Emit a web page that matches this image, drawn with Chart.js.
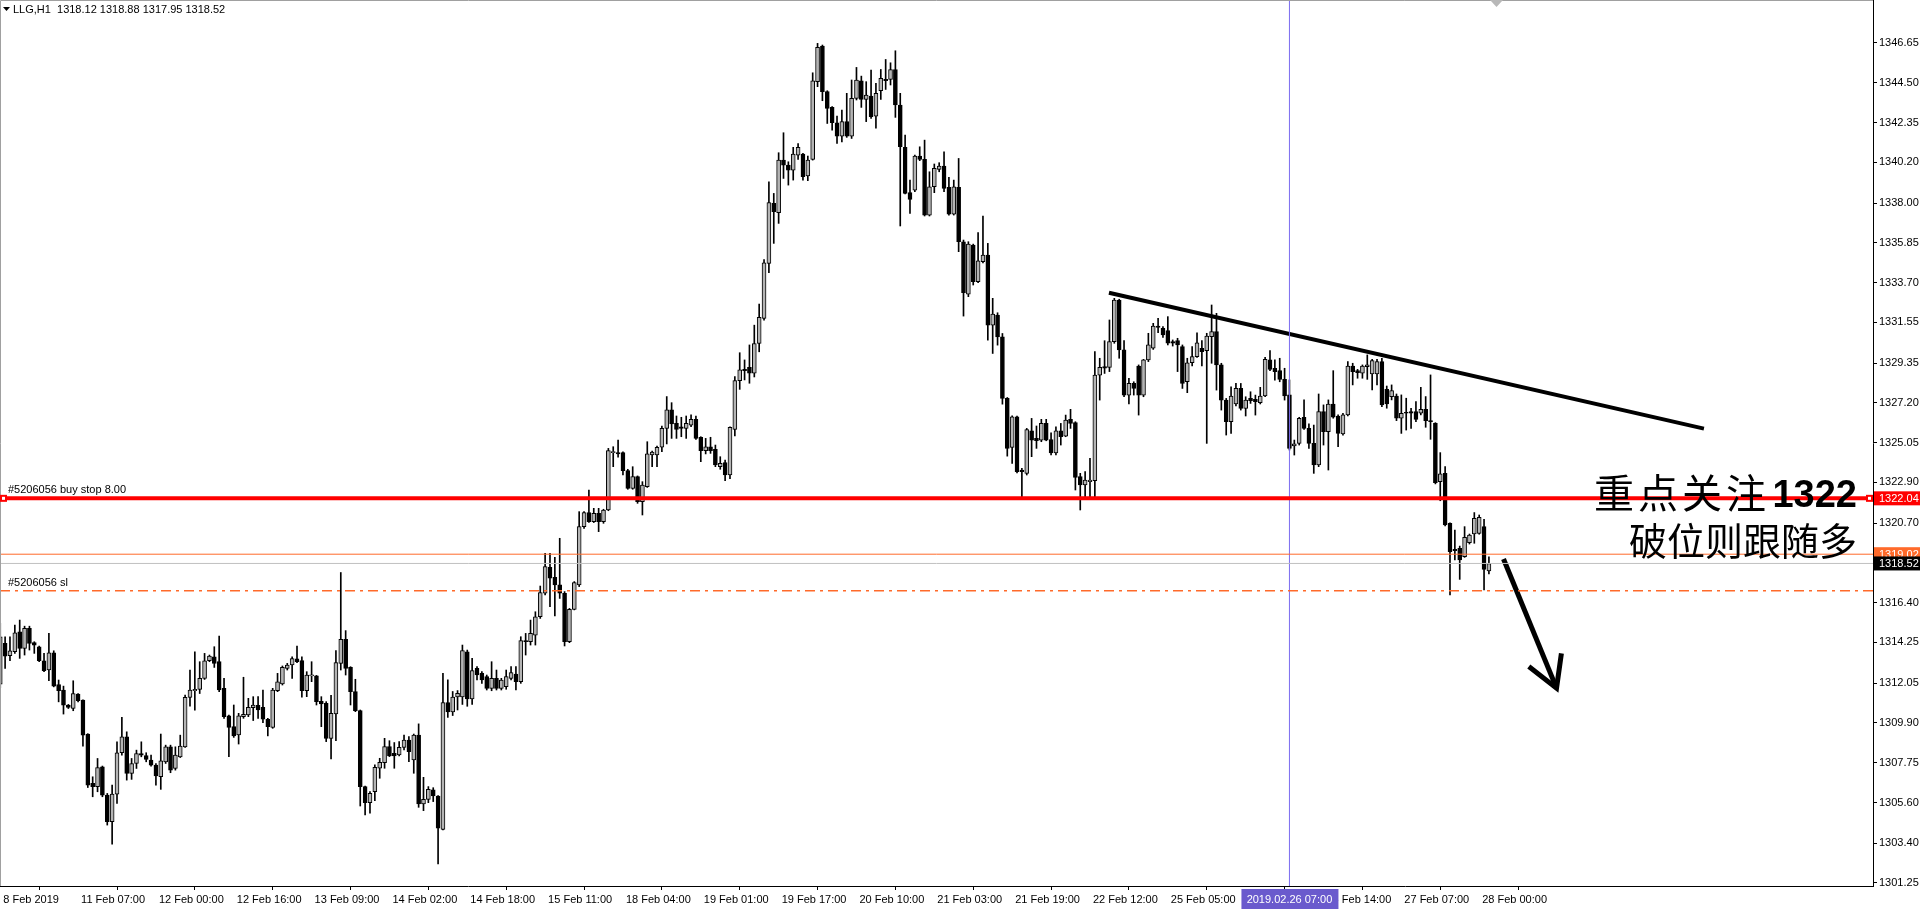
<!DOCTYPE html>
<html>
<head>
<meta charset="utf-8">
<script src="https://cdn.jsdelivr.net/npm/chart.js@4.4.1/dist/chart.umd.min.js"></script>
<style>
  html, body { margin: 0; padding: 0; background: #fff; overflow: hidden; }
  #wrap { width: 1920px; height: 910px; }
</style>
</head>
<body>
<div id="wrap"><canvas id="chart" width="1920" height="910"></canvas></div>
<script>
// LLG,H1 bars, 8 Feb 2019 14:00 .. 28 Feb 2019 02:00
const opens = [
  1312.00, 1314.20, 1313.53, 1313.75, 1314.83, 1313.93, 1315.01, 1314.25, 1314.02, 1313.26,
  1312.76, 1313.69, 1311.98, 1311.67, 1310.86, 1310.68, 1311.46, 1311.13, 1309.30, 1306.63,
  1306.45, 1307.53, 1306.00, 1304.56, 1306.05, 1308.29, 1309.15, 1307.17, 1307.71, 1308.25,
  1308.13, 1307.89, 1307.62, 1306.99, 1307.80, 1308.61, 1307.44, 1308.07, 1308.61, 1311.28,
  1311.64, 1311.71, 1312.31, 1313.26, 1313.48, 1313.21, 1311.77, 1310.28, 1309.70, 1309.25,
  1310.24, 1310.33, 1310.73, 1310.85, 1310.75, 1310.10, 1309.66, 1311.65, 1312.01, 1312.85,
  1313.03, 1313.36, 1313.27, 1311.65, 1312.44, 1312.44, 1311.07, 1310.96, 1309.07, 1310.39,
  1313.12, 1314.42, 1312.91, 1311.59, 1310.57, 1306.46, 1305.59, 1306.19, 1307.45, 1307.75,
  1308.62, 1308.26, 1308.17, 1308.58, 1308.98, 1307.90, 1309.25, 1305.52, 1305.77, 1306.28,
  1305.95, 1304.15, 1311.00, 1310.50, 1311.30, 1311.30, 1313.75, 1311.20, 1312.85, 1312.58,
  1312.40, 1311.77, 1312.31, 1311.77, 1311.86, 1312.31, 1312.54, 1312.13, 1314.35, 1314.29,
  1314.65, 1315.64, 1316.91, 1318.31, 1317.77, 1317.36, 1316.91, 1314.29, 1316.04, 1317.36,
  1320.51, 1321.27, 1320.78, 1321.23, 1320.78, 1321.41, 1324.51, 1324.51, 1324.51, 1323.54,
  1322.58, 1323.21, 1321.86, 1322.67, 1324.38, 1324.38, 1324.80, 1325.82, 1326.82, 1326.09,
  1325.91, 1325.82, 1326.00, 1326.31, 1325.34, 1324.62, 1324.83, 1324.69, 1323.75, 1323.97,
  1323.30, 1325.77, 1328.40, 1329.01, 1329.12, 1328.80, 1330.41, 1331.76, 1334.74, 1337.98,
  1337.48, 1340.32, 1340.05, 1339.78, 1340.59, 1340.65, 1339.46, 1340.36, 1344.56, 1346.49,
  1344.02, 1343.17, 1342.34, 1341.62, 1342.40, 1341.62, 1343.66, 1344.61, 1343.60, 1343.78,
  1342.70, 1344.07, 1344.68, 1344.68, 1345.22, 1343.30, 1341.01, 1338.56, 1338.70, 1340.54,
  1340.36, 1337.35, 1338.88, 1339.82, 1340.00, 1338.85, 1337.40, 1338.85, 1335.91, 1333.08,
  1335.73, 1333.75, 1334.83, 1335.19, 1331.40, 1331.95, 1330.77, 1327.44, 1324.79, 1326.45,
  1323.57, 1323.39, 1325.69, 1325.28, 1325.19, 1326.09, 1325.22, 1324.50, 1325.69, 1325.40,
  1326.31, 1326.13, 1323.21, 1322.76, 1322.94, 1322.99, 1328.70, 1329.16, 1329.12, 1330.51,
  1332.76, 1330.06, 1327.62, 1328.25, 1329.19, 1327.62, 1329.52, 1330.15, 1331.35, 1331.23,
  1331.10, 1330.51, 1330.56, 1330.24, 1328.34, 1329.37, 1329.70, 1330.15, 1330.02, 1330.78,
  1331.05, 1329.25, 1327.35, 1326.18, 1327.14, 1327.98, 1326.90, 1327.44, 1327.39, 1327.21,
  1327.57, 1329.52, 1329.07, 1328.94, 1328.47, 1327.63, 1324.87, 1325.01, 1326.42, 1325.82,
  1325.01, 1323.84, 1326.73, 1325.64, 1327.14, 1326.49, 1325.52, 1326.55, 1329.19, 1328.94,
  1328.80, 1329.16, 1328.76, 1328.76, 1329.43, 1327.93, 1327.54, 1327.57, 1326.37, 1326.67,
  1326.73, 1326.73, 1326.64, 1326.85, 1326.24, 1326.09, 1322.94, 1323.39, 1320.69, 1319.28,
  1319.34, 1318.89, 1319.64, 1320.11, 1320.15, 1320.51, 1318.12
];
const highs = [
  1315.28, 1314.56, 1314.56, 1315.19, 1315.46, 1315.13, 1315.13, 1314.29, 1314.05, 1313.66,
  1314.74, 1313.80, 1312.22, 1311.89, 1310.90, 1312.18, 1311.49, 1311.15, 1309.32, 1306.99,
  1307.98, 1307.57, 1306.09, 1306.54, 1308.88, 1310.20, 1309.42, 1307.98, 1308.43, 1308.88,
  1308.29, 1308.16, 1307.71, 1309.30, 1308.70, 1308.70, 1308.61, 1309.24, 1311.40, 1312.76,
  1313.75, 1313.21, 1313.66, 1313.57, 1314.02, 1314.60, 1312.31, 1310.33, 1310.87, 1310.42,
  1312.37, 1311.23, 1311.32, 1311.32, 1311.68, 1310.15, 1311.77, 1312.58, 1312.98, 1313.12,
  1313.48, 1314.06, 1313.48, 1312.67, 1313.21, 1312.47, 1311.32, 1311.05, 1311.39, 1313.81,
  1318.03, 1314.89, 1312.94, 1312.26, 1310.60, 1306.49, 1306.19, 1307.63, 1307.99, 1309.07,
  1308.94, 1308.84, 1308.89, 1309.25, 1309.16, 1309.30, 1309.85, 1306.96, 1306.46, 1306.40,
  1305.97, 1312.58, 1312.23, 1311.60, 1311.65, 1314.11, 1313.84, 1313.39, 1312.94, 1312.67,
  1312.49, 1313.21, 1312.76, 1312.31, 1312.76, 1312.94, 1312.94, 1314.56, 1314.74, 1315.46,
  1315.91, 1317.30, 1319.07, 1319.07, 1318.85, 1319.88, 1317.00, 1316.09, 1317.54, 1321.32,
  1321.32, 1322.49, 1321.50, 1321.50, 1321.45, 1324.74, 1324.83, 1325.19, 1324.56, 1323.61,
  1323.75, 1323.25, 1322.94, 1325.10, 1324.60, 1324.87, 1325.95, 1327.54, 1327.21, 1326.49,
  1326.42, 1326.49, 1326.55, 1326.49, 1325.37, 1325.28, 1325.34, 1324.92, 1324.29, 1324.11,
  1325.91, 1328.62, 1329.91, 1329.52, 1330.33, 1331.40, 1332.54, 1334.95, 1339.15, 1338.52,
  1340.72, 1341.80, 1340.23, 1341.01, 1341.22, 1340.68, 1340.54, 1345.04, 1346.63, 1346.54,
  1344.07, 1343.21, 1342.70, 1343.03, 1343.93, 1344.65, 1345.33, 1344.86, 1344.56, 1345.19,
  1344.47, 1345.22, 1345.76, 1345.58, 1346.23, 1343.93, 1341.67, 1339.24, 1340.59, 1341.04,
  1341.40, 1339.69, 1340.11, 1340.18, 1340.77, 1339.39, 1339.24, 1340.41, 1336.00, 1335.91,
  1335.78, 1336.40, 1337.30, 1335.82, 1332.85, 1332.07, 1330.95, 1327.49, 1326.50, 1326.49,
  1323.66, 1325.82, 1326.36, 1325.95, 1326.31, 1326.31, 1325.58, 1325.91, 1326.09, 1326.54,
  1326.85, 1326.18, 1323.39, 1323.48, 1324.20, 1329.97, 1329.61, 1330.56, 1331.68, 1332.85,
  1332.80, 1330.56, 1328.52, 1328.34, 1329.25, 1329.55, 1330.96, 1331.50, 1331.77, 1331.32,
  1331.86, 1330.60, 1330.69, 1330.33, 1329.61, 1330.24, 1330.99, 1330.56, 1330.96, 1332.49,
  1332.04, 1329.34, 1327.44, 1328.07, 1328.25, 1328.25, 1327.53, 1327.80, 1327.62, 1328.04,
  1329.66, 1330.02, 1329.52, 1329.61, 1329.07, 1328.44, 1325.19, 1326.42, 1327.36, 1326.06,
  1326.00, 1327.68, 1327.09, 1327.36, 1328.94, 1326.55, 1326.64, 1329.43, 1329.34, 1329.01,
  1329.25, 1329.79, 1329.55, 1329.55, 1329.61, 1328.11, 1328.17, 1327.68, 1327.63, 1327.45,
  1326.91, 1327.27, 1328.04, 1327.54, 1328.71, 1326.13, 1324.51, 1323.75, 1320.72, 1320.33,
  1319.46, 1320.51, 1320.11, 1321.27, 1321.14, 1320.91, 1318.88
];
const lows = [
  1311.80, 1312.85, 1313.26, 1313.66, 1313.39, 1313.57, 1313.84, 1313.66, 1313.21, 1312.67,
  1312.18, 1311.85, 1311.04, 1310.38, 1310.68, 1310.56, 1311.04, 1308.65, 1306.41, 1305.91,
  1306.18, 1305.91, 1304.38, 1303.35, 1305.55, 1308.16, 1306.81, 1306.85, 1307.44, 1308.07,
  1307.80, 1307.57, 1306.54, 1306.31, 1307.71, 1307.21, 1307.35, 1308.03, 1308.58, 1310.81,
  1310.59, 1311.49, 1312.25, 1313.21, 1312.90, 1311.59, 1310.15, 1308.08, 1309.12, 1308.76,
  1310.15, 1310.24, 1310.03, 1310.15, 1309.92, 1309.20, 1309.61, 1311.59, 1311.95, 1312.76,
  1312.30, 1313.16, 1311.29, 1311.32, 1312.13, 1310.87, 1309.70, 1308.89, 1307.95, 1308.94,
  1312.76, 1312.49, 1310.87, 1310.51, 1305.41, 1304.93, 1305.02, 1305.70, 1306.91, 1307.45,
  1308.08, 1307.45, 1308.12, 1308.44, 1307.81, 1307.18, 1305.34, 1305.16, 1305.59, 1305.65,
  1302.28, 1304.12, 1310.20, 1310.30, 1310.60, 1310.90, 1310.80, 1310.90, 1312.22, 1312.04,
  1311.68, 1311.64, 1311.68, 1311.68, 1311.72, 1312.22, 1311.68, 1312.04, 1313.57, 1314.11,
  1314.11, 1315.55, 1316.82, 1316.18, 1315.68, 1316.63, 1314.06, 1314.24, 1316.01, 1317.27,
  1320.42, 1320.74, 1320.73, 1320.24, 1320.69, 1321.37, 1323.75, 1324.26, 1323.30, 1322.53,
  1322.53, 1321.77, 1321.14, 1322.63, 1323.75, 1323.75, 1324.56, 1324.98, 1325.28, 1325.28,
  1325.37, 1325.28, 1325.91, 1325.23, 1324.02, 1324.44, 1324.47, 1323.75, 1323.61, 1323.00,
  1323.10, 1325.41, 1327.93, 1328.44, 1328.26, 1328.60, 1329.96, 1331.67, 1334.23, 1335.82,
  1336.90, 1339.33, 1338.97, 1339.24, 1340.36, 1339.24, 1339.21, 1340.32, 1344.29, 1343.53,
  1342.30, 1341.94, 1341.22, 1341.31, 1341.55, 1341.49, 1343.57, 1343.17, 1342.40, 1342.58,
  1342.04, 1343.60, 1344.14, 1344.38, 1342.63, 1336.76, 1338.49, 1337.44, 1338.61, 1340.29,
  1337.30, 1337.30, 1338.56, 1339.69, 1338.61, 1337.35, 1337.35, 1335.37, 1331.89, 1332.94,
  1333.57, 1333.69, 1334.77, 1330.59, 1329.87, 1330.32, 1327.13, 1324.32, 1323.93, 1323.42,
  1321.98, 1323.30, 1324.29, 1324.74, 1325.10, 1325.15, 1324.38, 1324.38, 1324.92, 1325.37,
  1325.82, 1322.49, 1321.41, 1322.13, 1322.04, 1322.13, 1327.35, 1328.79, 1328.89, 1330.42,
  1329.61, 1327.53, 1327.14, 1327.62, 1326.54, 1327.53, 1329.43, 1330.09, 1330.99, 1330.74,
  1330.33, 1330.27, 1328.89, 1327.98, 1327.75, 1329.19, 1329.66, 1329.19, 1325.01, 1329.34,
  1327.89, 1326.81, 1325.46, 1325.55, 1327.03, 1326.81, 1326.49, 1327.17, 1326.54, 1327.14,
  1327.53, 1328.94, 1328.43, 1328.34, 1327.35, 1324.65, 1324.38, 1324.92, 1325.77, 1324.74,
  1323.39, 1323.75, 1324.92, 1323.57, 1326.37, 1324.83, 1325.46, 1326.49, 1328.17, 1328.53,
  1328.53, 1328.47, 1327.90, 1328.17, 1327.00, 1326.91, 1327.36, 1326.24, 1325.55, 1325.73,
  1325.82, 1326.19, 1326.55, 1325.88, 1325.23, 1322.82, 1321.91, 1320.55, 1316.82, 1318.71,
  1317.66, 1318.85, 1319.57, 1319.61, 1320.10, 1317.09, 1317.95
];
const closes = [
  1314.56, 1313.51, 1313.80, 1314.77, 1313.93, 1315.01, 1314.20, 1314.11, 1313.26, 1312.72,
  1313.69, 1311.89, 1311.64, 1310.86, 1310.74, 1311.49, 1311.10, 1309.24, 1306.54, 1306.45,
  1307.49, 1306.00, 1304.56, 1306.05, 1308.29, 1309.15, 1307.17, 1307.71, 1308.25, 1308.16,
  1307.93, 1307.62, 1307.03, 1307.85, 1308.61, 1307.35, 1308.16, 1308.65, 1311.28, 1311.67,
  1311.71, 1312.31, 1313.26, 1313.51, 1313.12, 1311.68, 1310.24, 1309.66, 1309.20, 1310.28,
  1310.37, 1310.75, 1310.87, 1310.60, 1310.10, 1309.70, 1311.68, 1312.12, 1312.91, 1313.03,
  1313.38, 1313.21, 1311.65, 1312.49, 1312.49, 1311.05, 1310.93, 1309.07, 1310.42, 1313.16,
  1314.42, 1312.85, 1311.59, 1310.57, 1306.46, 1305.59, 1306.10, 1307.50, 1307.77, 1308.62,
  1308.12, 1308.12, 1308.58, 1308.98, 1308.35, 1309.25, 1305.52, 1305.77, 1306.31, 1305.95,
  1304.21, 1311.00, 1310.50, 1311.30, 1311.50, 1313.81, 1311.20, 1312.73, 1312.49, 1312.22,
  1311.77, 1312.31, 1311.77, 1312.22, 1312.40, 1312.62, 1312.13, 1314.35, 1314.29, 1314.74,
  1315.64, 1316.94, 1318.35, 1317.72, 1317.36, 1316.91, 1314.29, 1316.04, 1317.48, 1320.51,
  1321.27, 1320.78, 1321.23, 1320.78, 1321.41, 1324.62, 1324.56, 1324.44, 1323.54, 1322.58,
  1323.21, 1321.86, 1322.76, 1324.44, 1324.54, 1324.80, 1325.82, 1326.82, 1326.06, 1325.77,
  1325.82, 1326.09, 1326.31, 1325.28, 1324.62, 1324.83, 1324.62, 1323.84, 1323.93, 1323.30,
  1325.88, 1328.40, 1328.98, 1328.94, 1328.80, 1330.41, 1331.82, 1334.77, 1338.02, 1337.53,
  1340.32, 1340.05, 1339.78, 1340.65, 1341.01, 1339.42, 1340.32, 1344.61, 1346.41, 1344.02,
  1343.12, 1342.34, 1341.62, 1342.40, 1341.62, 1343.66, 1344.65, 1343.60, 1343.84, 1342.67,
  1343.93, 1344.74, 1344.61, 1345.22, 1343.30, 1341.04, 1338.52, 1338.20, 1340.54, 1340.36,
  1337.35, 1338.88, 1339.87, 1340.00, 1338.79, 1337.40, 1338.88, 1335.91, 1333.15, 1335.78,
  1333.75, 1334.88, 1335.19, 1331.40, 1332.00, 1330.77, 1327.44, 1324.74, 1326.45, 1323.48,
  1323.48, 1325.76, 1325.19, 1325.15, 1326.09, 1325.19, 1324.50, 1325.69, 1325.37, 1326.27,
  1326.09, 1323.17, 1322.76, 1323.03, 1323.03, 1328.70, 1329.12, 1329.07, 1330.51, 1332.76,
  1330.06, 1327.62, 1328.25, 1327.98, 1327.62, 1329.52, 1330.33, 1331.35, 1331.28, 1330.87,
  1330.42, 1330.42, 1330.33, 1328.25, 1329.37, 1329.70, 1330.45, 1329.97, 1330.81, 1331.05,
  1329.25, 1327.35, 1326.18, 1327.57, 1327.98, 1326.90, 1327.35, 1327.32, 1327.26, 1327.57,
  1329.55, 1329.01, 1328.89, 1328.47, 1327.57, 1324.74, 1324.98, 1326.37, 1325.82, 1325.01,
  1323.84, 1326.73, 1325.64, 1327.14, 1326.42, 1325.55, 1326.55, 1329.19, 1328.89, 1328.83,
  1329.19, 1329.25, 1329.48, 1329.43, 1327.09, 1327.14, 1327.86, 1326.37, 1326.64, 1326.64,
  1326.64, 1326.31, 1326.85, 1326.24, 1326.19, 1322.89, 1323.36, 1320.60, 1319.16, 1319.21,
  1318.71, 1319.93, 1320.06, 1320.96, 1321.01, 1318.20, 1318.52
];

const xTickBars = [0, 16, 32, 48, 64, 80, 96, 112, 128, 144, 160, 176, 192, 208, 224, 240, 256, 272, 288, 304];
const xTickLabels = [
  '8 Feb 2019', '11 Feb 07:00', '12 Feb 00:00', '12 Feb 16:00', '13 Feb 09:00', '14 Feb 02:00',
  '14 Feb 18:00', '15 Feb 11:00', '18 Feb 04:00', '19 Feb 01:00', '19 Feb 17:00', '20 Feb 10:00',
  '21 Feb 03:00', '21 Feb 19:00', '22 Feb 12:00', '25 Feb 05:00', '25 Feb 21:00', '26 Feb 14:00',
  '27 Feb 07:00', '28 Feb 00:00'
];
const yTickValues = [
  1346.65, 1344.50, 1342.35, 1340.20, 1338.00, 1335.85, 1333.70, 1331.55, 1329.35, 1327.20, 1325.05,
  1322.90, 1320.70, 1316.40, 1314.25, 1312.05, 1309.90, 1307.75, 1305.60, 1303.40, 1301.25
];

const buyStopPrice = 1322.04;
const askPrice = 1319.02;
const bidPrice = 1318.52;
const stopLossPrice = 1317.05;
const trendLine = [{ x: 227.9, y: 1333.15 }, { x: 350.2, y: 1325.81 }];
const arrowShaft = [{ x: 309.0, y: 1318.76 }, { x: 319.9, y: 1311.78 }];
const arrowHead = [{ x: 314.2, y: 1312.95 }, { x: 319.9, y: 1311.78 }, { x: 320.9, y: 1313.66 }];
const cursorBar = 265;
const cursorLabel = '2019.02.26 07:00';

const X_MIN = -0.05, X_MAX = 384.95;
const Y_MIN = 1301.087, Y_MAX = 1348.974;
const BULL_FILL = '#b4b4b4';
const ORANGE = '#ff6a2a';

const bars = opens.map((_, i) => i);
const wickData = bars.map(i => ({ x: i, y: [lows[i], highs[i]] }));
const bodyData = bars.map(i => ({ x: i, y: [opens[i], closes[i]] }));
const bodyFill = bars.map(i => closes[i] >= opens[i] ? BULL_FILL : '#000');
const hLine = p => [{ x: X_MIN, y: p }, { x: X_MAX, y: p }];

const lineDs = (data, color, width, extra) => Object.assign({
  type: 'line', data, borderColor: color, borderWidth: width, pointRadius: 0,
  fill: false, tension: 0, order: 0
}, extra || {});

const overlay = {
  id: 'overlay',
  afterDraw(chart) {
    const { ctx, chartArea: a, scales: { x, y } } = chart;
    ctx.save();

    // frame
    ctx.strokeStyle = '#a0a0a0';
    ctx.lineWidth = 1;
    ctx.beginPath();
    ctx.moveTo(a.left + 0.5, a.bottom);
    ctx.lineTo(a.left + 0.5, a.top + 0.5);
    ctx.lineTo(a.right, a.top + 0.5);
    ctx.stroke();

    // shift marker
    ctx.fillStyle = '#b8b8b8';
    ctx.beginPath();
    ctx.moveTo(1490, 0); ctx.lineTo(1503, 0); ctx.lineTo(1496.5, 7);
    ctx.closePath(); ctx.fill();

    // header
    const last = opens.length - 1;
    ctx.fillStyle = '#000';
    ctx.beginPath();
    ctx.moveTo(3, 7); ctx.lineTo(10, 7); ctx.lineTo(6.5, 11);
    ctx.closePath(); ctx.fill();
    ctx.font = '11px "Liberation Sans"';
    ctx.textBaseline = 'middle';
    ctx.textAlign = 'left';
    ctx.fillText('LLG,H1  ' + [opens[last], highs[last], lows[last], closes[last]].map(v => v.toFixed(2)).join(' '), 13, 9.5);

    // order labels
    const yBuy = y.getPixelForValue(buyStopPrice);
    const ySl = y.getPixelForValue(stopLossPrice);
    ctx.fillStyle = '#000';
    ctx.textBaseline = 'alphabetic';
    ctx.fillText('#5206056 buy stop 8.00', 8, yBuy - 5);
    ctx.fillText('#5206056 sl', 8, ySl - 5);

    // line end markers
    const marker = (cx) => {
      ctx.fillStyle = '#ff0000';
      ctx.fillRect(cx - 3.5, yBuy - 3.5, 7, 7);
      ctx.fillStyle = '#fff';
      ctx.fillRect(cx - 1.5, yBuy - 1.5, 3, 3);
    };
    marker(a.left + 3.5);
    marker(a.right - 3.5);

    // price boxes on the axis
    const box = (price, bg) => {
      const py = y.getPixelForValue(price);
      ctx.fillStyle = bg;
      ctx.fillRect(a.right + 1, py - 7, 1920 - a.right - 1, 14);
      ctx.fillStyle = '#fff';
      ctx.textBaseline = 'middle';
      ctx.fillText(price.toFixed(2), a.right + 6, py + 0.5);
    };
    box(buyStopPrice, '#ff0000');
    box(askPrice, ORANGE);
    box(bidPrice, '#000');

    // cursor time box
    const cx = x.getPixelForValue(cursorBar);
    ctx.fillStyle = '#6a5acd';
    ctx.fillRect(cx - 48, a.bottom + 3, 97, 20);
    ctx.fillStyle = '#fff';
    ctx.textAlign = 'center';
    ctx.fillText(cursorLabel, cx, a.bottom + 13.5);

    // annotation text
    ctx.fillStyle = '#000';
    ctx.textAlign = 'left';
    ctx.textBaseline = 'middle';
    ctx.font = '40px "Noto Sans CJK SC"';
    const line1 = '重点关注';
    for (let k = 0; k < line1.length; k++) {
      ctx.fillText(line1[k], 1594 + k * 44, 493);
    }
    ctx.font = 'bold 38px "Liberation Sans"';
    ctx.textBaseline = 'alphabetic';
    ctx.textAlign = 'right';
    ctx.fillText('1322', 1857, 507);
    ctx.font = '38px "Noto Sans CJK SC"';
    ctx.textBaseline = 'middle';
    ctx.fillText('破位则跟随多', 1857, 541);

    ctx.restore();
  }
};

new Chart(document.getElementById('chart'), {
  type: 'bar',
  data: {
    datasets: [
      lineDs(hLine(buyStopPrice), '#ff0000', 4),
      lineDs(hLine(askPrice), ORANGE, 1),
      lineDs(hLine(bidPrice), '#c0c0c0', 1),
      lineDs(hLine(stopLossPrice), ORANGE, 1.5, { borderDash: [10, 5, 3, 5] }),
      lineDs([{ x: cursorBar, y: Y_MIN }, { x: cursorBar, y: Y_MAX }], '#7b6cf0', 1),
      lineDs(trendLine, '#000', 4),
      lineDs(arrowShaft, '#000', 5),
      lineDs(arrowHead, '#000', 5, { borderJoinStyle: 'miter' }),
      {
        data: bodyData, backgroundColor: bodyFill, borderColor: '#000', borderWidth: 1,
        borderSkipped: false, barThickness: 4, minBarLength: 1, grouped: false, order: 1
      },
      {
        data: wickData, backgroundColor: '#000', borderWidth: 0,
        barThickness: 1, grouped: false, order: 2
      }
    ]
  },
  options: {
    responsive: false,
    animation: false,
    devicePixelRatio: 1,
    layout: { padding: 0 },
    plugins: { legend: { display: false }, tooltip: { enabled: false } },
    scales: {
      x: {
        type: 'linear', min: X_MIN, max: X_MAX, offset: false,
        grid: { display: true, drawOnChartArea: false, drawTicks: true, tickLength: 4, color: '#000' },
        border: { display: true, color: '#000' },
        ticks: {
          autoSkip: false, maxRotation: 0, minRotation: 0, align: 'start', padding: 3, labelOffset: 3,
          color: '#000', font: { family: 'Liberation Sans', size: 11 },
          callback: v => { const k = xTickBars.indexOf(v); return k >= 0 ? xTickLabels[k] : ''; }
        },
        afterBuildTicks: s => { s.ticks = xTickBars.map(v => ({ value: v })); },
        afterFit: s => { s.height = 24; s.paddingLeft = 0; s.paddingRight = 0; }
      },
      y: {
        type: 'linear', position: 'right', min: Y_MIN, max: Y_MAX,
        grid: { display: true, drawOnChartArea: false, drawTicks: true, tickLength: 4, color: '#000' },
        border: { display: true, color: '#000' },
        ticks: {
          autoSkip: false, padding: 2, crossAlign: 'near',
          color: '#000', font: { family: 'Liberation Sans', size: 11 },
          callback: v => v.toFixed(2)
        },
        afterBuildTicks: s => { s.ticks = yTickValues.map(v => ({ value: v })); },
        afterFit: s => { s.width = 47; s.paddingTop = 0; s.paddingBottom = 0; }
      }
    }
  },
  plugins: [overlay]
});
</script>
</body>
</html>
